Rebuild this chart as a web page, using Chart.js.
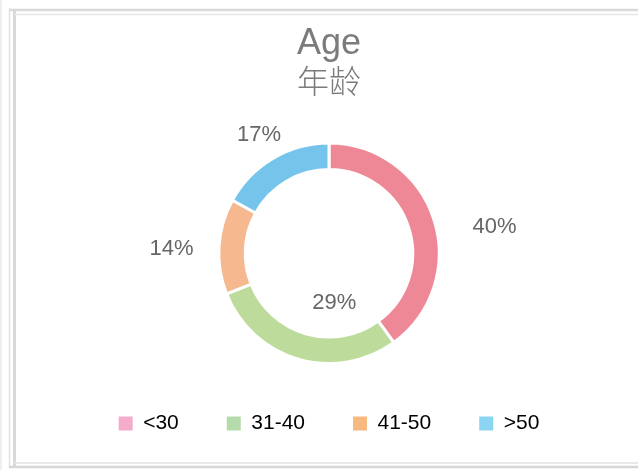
<!DOCTYPE html>
<html>
<head>
<meta charset="utf-8">
<script src="https://cdn.jsdelivr.net/npm/chart.js@4"></script>
<style>
  html, body { margin: 0; padding: 0; background: #fff; }
  #wrap { width: 638px; height: 470px; position: relative; }
</style>
</head>
<body>
<div id="wrap"><canvas id="ageChart"></canvas></div>
<script>
// chart data
const categories = ['<30', '31-40', '41-50', '>50'];
const shares = [40, 29, 14, 17];
const sliceColors = ['#ef8896', '#bddc9b', '#f6b88e', '#74c4ec'];
const legendColors = ['#f4abcc', '#b4dcab', '#f8b981', '#8bd5f3'];

const FONT = "'Liberation Sans', 'Noto Sans CJK SC', Arial, sans-serif";

// sketchy frame around the card
const framePlugin = {
    id: 'frame',
    beforeDraw(chart) {
        const ctx = chart.ctx;
        const w = chart.width, h = chart.height;
        ctx.save();
        const line = (x1, y1, x2, y2, color, width) => {
            ctx.strokeStyle = color;
            ctx.lineWidth = width;
            ctx.beginPath();
            ctx.moveTo(x1, y1);
            ctx.lineTo(x2, y2);
            ctx.stroke();
        };
        line(1, 0, 1, h, '#efefef', 2);
        line(9.5, 8, 9.5, h - 2, '#e2e2e2', 1.5);
        line(14.5, 10, 14.5, h - 4, '#d9d9d9', 3);
        line(10, 10, w, 10, '#d9d9d9', 2.5);
        line(14, 14.5, w, 14.5, '#e6e6e6', 1.5);
        line(14, 463, w, 463, '#e2e2e2', 1.5);
        line(9, 467, w, 467, '#d6d6d6', 2.5);
        ctx.restore();
    }
};

// percent labels placed around the ring (angle from top, distance as ratio of outer radius)
const labelAngles = [81, 174, 271.5, 329.5];
const labelDist = [1.52, 0.45, 1.43, 1.25];
const percentLabels = {
    id: 'percentLabels',
    afterDatasetsDraw(chart) {
        const ctx = chart.ctx;
        const meta = chart.getDatasetMeta(0);
        ctx.save();
        ctx.font = '22px ' + FONT;
        ctx.fillStyle = '#666666';
        ctx.textAlign = 'center';
        ctx.textBaseline = 'middle';
        meta.data.forEach((arc, i) => {
            const a = labelAngles[i] * Math.PI / 180;
            const r = arc.outerRadius * labelDist[i];
            const x = arc.x + Math.sin(a) * r;
            const y = arc.y - Math.cos(a) * r;
            ctx.fillText(shares[i] + '%', x, y);
        });
        ctx.restore();
    }
};

new Chart(document.getElementById('ageChart'), {
    type: 'doughnut',
    data: {
        labels: categories,
        datasets: [{
            data: shares,
            backgroundColor: sliceColors,
            borderColor: '#ffffff',
            borderWidth: 3,
            hoverOffset: 0
        }]
    },
    options: {
        responsive: true,
        maintainAspectRatio: false,
        animation: false,
        cutout: '76%',
        layout: { padding: { top: 10, left: 20, right: 0, bottom: 26 } },
        plugins: {
            title: {
                display: true,
                text: 'Age',
                color: '#7b7b7b',
                font: { family: FONT, size: 36, weight: 'normal' },
                padding: { top: 12, bottom: 0 }
            },
            subtitle: {
                display: true,
                text: '年龄',
                color: '#7b7b7b',
                font: { family: FONT, size: 32, weight: 300 },
                padding: { top: 0, bottom: 38 }
            },
            legend: {
                position: 'bottom',
                labels: {
                    boxWidth: 14,
                    boxHeight: 14,
                    padding: 48,
                    color: '#707070',
                    font: { family: FONT, size: 21 },
                    generateLabels: () => categories.map((c, i) => ({
                        text: c,
                        fillStyle: legendColors[i],
                        strokeStyle: legendColors[i],
                        lineWidth: 0,
                        index: i
                    }))
                }
            },
            tooltip: { enabled: false }
        }
    },
    plugins: [framePlugin, percentLabels]
});
</script>
</body>
</html>
